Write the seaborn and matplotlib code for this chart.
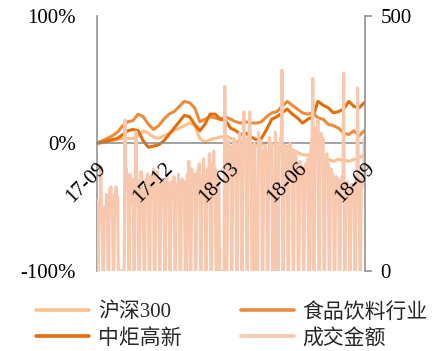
import numpy as np
import pandas as pd
import matplotlib
matplotlib.use("Agg")
import matplotlib.pyplot as plt
from matplotlib.lines import Line2D
import seaborn as sns

sns.set_style("white")
plt.rcParams["font.family"] = ["Liberation Serif", "Noto Sans CJK SC"]

# Weekly cumulative returns (%), sampled every Friday from 2017-09-01
hs300 = [0, 0.5, 1.5, 2, 3, 4, 4, 4, 6, 10, 8, 5, 4, 6, 8, 10, 12, 14, 16, 14,
         4, 1, 3, 4, 5, 6, 4, 2, 0, -1.5, -2.5, -1.5, -1, 0.5, 0, -1.5, -1, -2.5,
         -5, -7, -9, -9, -10, -10, -12, -12.5, -14, -12.5, -13, -14, -12.5, -11, -9]
zjgx = [0, 1, 2, 3, 4, 7, 10, 11, 10, 2, -3, -2, -1, 2, 7, 12, 17, 22, 21, 15,
        10, 15, 23, 23, 19, 18, 12, 10, 7, 8, 5, 3, 4, 11, 19, 21, 24, 27, 23, 20,
        16, 19, 21, 33, 30, 28, 24, 25, 27, 33, 29, 28, 32]
food = [0.5, 2, 4, 6, 9, 14, 17, 18, 23, 21, 15, 11, 14, 19, 23, 25, 29, 33, 32, 28,
        17, 19, 21, 20, 19, 21, 19, 17, 16, 17, 16, 16, 17, 21, 24, 25, 29, 33, 30, 27,
        24, 23, 24, 20, 19, 15, 14, 12, 8, 7, 10, 6, 10]

# Daily turnover (百万元) for each weekday, Mon-Fri; holidays are 0
turnover_weeks = [
    [140],
    [130, 100, 205, 120, 110], [115, 125, 105, 150, 140], [160, 155, 165, 120, 135],
    [150, 130, 165, 110, 145], [0, 0, 0, 0, 0], [296, 180, 200, 175, 160],
    [190, 150, 170, 135, 180], [150, 273, 200, 160, 175], [140, 195, 165, 150, 130],
    [170, 180, 155, 190, 140], [185, 160, 145, 175, 200], [170, 150, 195, 165, 140],
    [160, 180, 150, 140, 175], [150, 190, 170, 160, 145], [175, 140, 165, 150, 185],
    [160, 170, 145, 190, 155], [150, 180, 165, 140, 175], [0, 190, 170, 215, 180],
    [200, 175, 185, 165, 190], [180, 195, 170, 210, 175], [185, 170, 220, 190, 165],
    [175, 200, 185, 230, 195], [210, 190, 235, 180, 200], [185, 175, 165, 0, 0],
    [0, 0, 0, 362, 240], [230, 255, 220, 200, 245], [210, 260, 235, 225, 250],
    [240, 225, 270, 230, 215], [250, 312, 240, 225, 260], [230, 260, 312, 245, 235],
    [225, 250, 240, 0, 0], [272, 240, 230, 255, 220], [235, 210, 245, 225, 230],
    [220, 262, 240, 230, 250], [0, 0, 272, 245, 230], [250, 235, 260, 240, 394],
    [245, 230, 220, 240, 215], [230, 250, 215, 225, 235], [210, 235, 225, 200, 215],
    [190, 215, 180, 205, 200], [180, 210, 195, 185, 220], [0, 230, 250, 260, 378],
    [260, 280, 240, 255, 296], [250, 270, 230, 245, 260], [220, 200, 230, 190, 210],
    [180, 200, 170, 190, 175], [165, 185, 170, 160, 180], [175, 160, 185, 170, 388],
    [165, 150, 175, 160, 145], [155, 170, 150, 165, 160], [175, 160, 359, 170, 155],
    [180, 165, 190, 175, 261],
]

tick_dates = ["2017-09-01", "2017-12-01", "2018-03-01", "2018-06-01", "2018-09-01"]
tick_labels = ["17-09", "17-12", "18-03", "18-06", "18-09"]
series_names = ["沪深300", "中炬高新", "食品饮料行业", "成交金额"]
colors = {"沪深300": "#FAC08F", "中炬高新": "#E46C0A",
          "食品饮料行业": "#EC8B3E", "成交金额": "#F7C7AE"}

weeks = pd.date_range("2017-09-01", periods=len(hs300), freq="7D")
prices = pd.DataFrame({"date": weeks, "沪深300": hs300,
                       "中炬高新": zjgx, "食品饮料行业": food})

trading_days = pd.bdate_range("2017-09-01", "2018-08-31")
turnover = pd.Series(sum(turnover_weeks, []), index=trading_days, dtype=float)
calendar = pd.date_range("2017-09-01", "2018-08-31")
turnover = turnover.reindex(calendar, fill_value=0)
vol = pd.DataFrame({"date": calendar, "成交金额": turnover.values})

fig = plt.figure(figsize=(4.4, 3.51), dpi=100)
ax = fig.add_axes([0.2205, 0.228, 0.609, 0.7265])

lw = 2.2
for name in ["沪深300", "食品饮料行业", "中炬高新"]:
    sns.lineplot(data=prices, x="date", y=name, ax=ax, color=colors[name],
                 lw=lw, legend=False)

ax2 = ax.twinx()
sns.lineplot(data=vol, x="date", y="成交金额", ax=ax2, color=colors["成交金额"],
             lw=lw, legend=False)

# left axis: returns
ax.set_ylim(-100, 100)
ax.set_xlim(pd.Timestamp("2017-09-01"), pd.Timestamp("2018-09-01"))
ax.set_yticks([-100, 0, 100])
ax.set_yticklabels(["-100%", "0%", "100%"])
ax.set_xlabel("")
ax.set_ylabel("")

spine_col = "#898989"
for s in ["top", "right"]:
    ax.spines[s].set_visible(False)
ax.spines["left"].set_color(spine_col)
ax.spines["left"].set_linewidth(1.1)
ax.spines["bottom"].set_position(("data", 0))
ax.spines["bottom"].set_color(spine_col)
ax.spines["bottom"].set_linewidth(1.1)
ax.tick_params(axis="y", length=0, pad=15, labelsize=15, colors="black")
ax.tick_params(axis="x", bottom=False, labelbottom=False)

# right axis: turnover
ax2.set_ylim(0, 500)
ax2.set_yticks([0, 500])
ax2.set_yticklabels(["0", "500"])
ax2.set_ylabel("")
ax2.set_xlabel("")
for s in ["top", "left"]:
    ax2.spines[s].set_visible(False)
ax2.spines["right"].set_color(spine_col)
ax2.spines["right"].set_linewidth(1.1)
ax2.tick_params(axis="y", length=5, width=1.1, pad=6, labelsize=15,
                color=spine_col, labelcolor="black")

# date labels sit on the zero line, drawn above the turnover trace
ax2.set_axisbelow(False)
ax2.xaxis.set_visible(True)
ax2.xaxis.set_zorder(5)
ax2.spines["bottom"].set_position(("data", 250))
ax2.spines["bottom"].set_visible(False)
ax2.set_xticks(pd.to_datetime(tick_dates))
ax2.set_xticklabels(tick_labels)
ax2.tick_params(axis="x", length=0, pad=11, labelsize=15, colors="black")
for lab in ax2.get_xticklabels():
    lab.set_rotation(45)
    lab.set_ha("right")
    lab.set_va("top")
    lab.set_rotation_mode("anchor")
ax2.set_xlim(pd.Timestamp("2017-09-01"), pd.Timestamp("2018-09-01"))

handles = [Line2D([], [], color=colors[n], lw=2.6) for n in series_names]
fig.legend(handles, series_names, ncol=2, loc="upper left",
           bbox_to_anchor=(0.082, 0.138), frameon=False, fontsize=15,
           handlelength=2.56, handletextpad=0.4, columnspacing=2.85,
           labelspacing=0.3, borderpad=0, borderaxespad=0)

fig.savefig("out.png", dpi=100)
